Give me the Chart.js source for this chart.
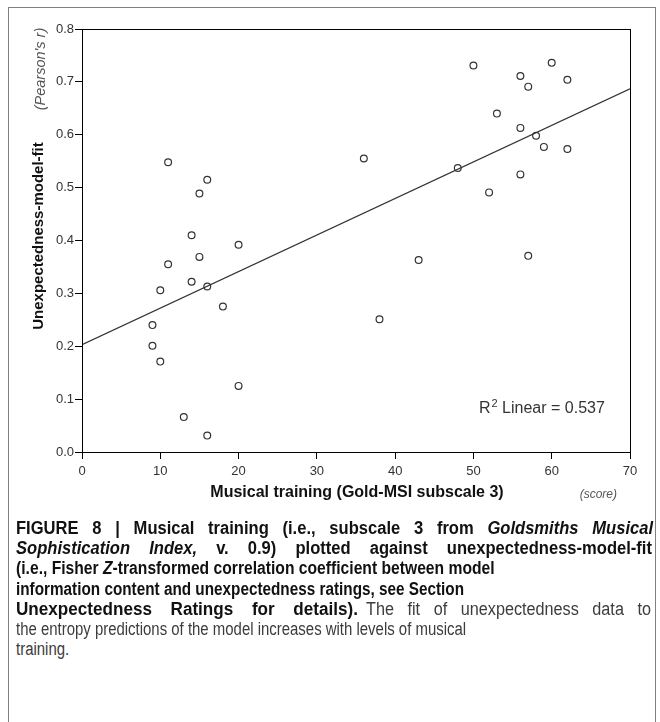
<!DOCTYPE html>
<html lang="en">
<head>
<meta charset="UTF-8">
<title>Figure 8</title>
<script src="https://cdn.jsdelivr.net/npm/chart.js"></script>
<style>
  body { margin: 0; background: #fff; }
  .frame {
    position: absolute; left: 8px; top: 7px; width: 646px; height: 740px;
    border: 1px solid #808080; border-bottom: none;
  }
  #chartBox { position: absolute; left: 0; top: 0; width: 660px; height: 520px; }
  .cap-line {
    position: absolute; left: 16px; height: 20px; line-height: 20px;
    font-family: "Liberation Sans", Arial, sans-serif;
    font-size: 18px; color: #3c3c3c;
    white-space: nowrap; transform-origin: 0 50%;
  }
  .cap-line.just { text-align: justify; text-align-last: justify; }
  .cap-line b { color: #111; }
</style>
</head>
<body>
<div class="frame"></div>
<div id="chartBox"><canvas id="chart" width="660" height="520"></canvas></div>
<div id="caption">
  <div class="cap-line just" data-row="0" data-k="0.92" data-w="637"><b>FIGURE 8 | Musical training (i.e., subscale 3 from <i>Goldsmiths Musical</i></b></div>
  <div class="cap-line just" data-row="1" data-k="0.92" data-w="636"><b><i>Sophistication Index,</i> v. 0.9) plotted against unexpectedness-model-fit</b></div>
  <div class="cap-line" data-row="2" data-k="0.87"><b>(i.e., Fisher <i>Z</i>-transformed correlation coefficient between model</b></div>
  <div class="cap-line" data-row="3" data-k="0.85"><b>information content and unexpectedness ratings, see Section</b></div>
  <div class="cap-line just" data-row="4" data-k="0.95" data-w="342"><b>Unexpectedness Ratings for details).</b></div>
  <div class="cap-line just" data-row="4" data-k="0.9" data-w="285" style="left:366px">The fit of unexpectedness data to</div>
  <div class="cap-line" data-row="5" data-k="0.83">the entropy predictions of the model increases with levels of musical</div>
  <div class="cap-line" data-row="6" data-k="0.83">training.</div>
</div>

<script>
// data
var trainingScore = [11, 16, 15, 14, 20, 15, 11, 14, 10, 16, 18, 9, 9, 10, 20, 13, 16,
  50, 60, 56, 57, 62, 53, 56, 58, 59, 62, 36, 48, 56, 52, 43, 57, 38];
var modelFit = [0.548, 0.515, 0.489, 0.410, 0.392, 0.369, 0.355, 0.322, 0.306, 0.313, 0.275,
  0.240, 0.201, 0.171, 0.125, 0.066, 0.031,
  0.731, 0.736, 0.711, 0.691, 0.704, 0.640, 0.613, 0.598, 0.577, 0.573,
  0.555, 0.537, 0.525, 0.491, 0.363, 0.371, 0.251];
// linear fit line end points
var fitX = [0, 70];
var fitY = [0.203, 0.687];
var rSquared = '0.537';

var FONT = '"Liberation Sans", Arial, sans-serif';

// caption: printed font is condensed, so squeeze the lines a bit
var capLines = document.querySelectorAll('.cap-line');
for (var i = 0; i < capLines.length; i++) {
  var el = capLines[i];
  var k = +el.dataset.k;
  el.style.top = (518 + (+el.dataset.row) * 20.2) + 'px';
  el.style.transform = 'scaleX(' + k + ')';
  if (el.dataset.w) el.style.width = (+el.dataset.w / k) + 'px';
}

var points = trainingScore.map(function(x, i) { return { x: x, y: modelFit[i] }; });
var fitLine = fitX.map(function(x, i) { return { x: x, y: fitY[i] }; });

function rotatedText(ctx, txt, x, y, font, color) {
  ctx.save();
  ctx.translate(x, y);
  ctx.rotate(-Math.PI / 2);
  ctx.textAlign = 'center';
  ctx.textBaseline = 'middle';
  ctx.fillStyle = color;
  ctx.font = font;
  ctx.fillText(txt, 0, 0);
  ctx.restore();
}

// box around plot + extra labels
var extras = {
  id: 'extras',
  afterDraw: function(chart) {
    var ctx = chart.ctx;
    var a = chart.chartArea;
    ctx.save();
    ctx.strokeStyle = '#000';
    ctx.lineWidth = 1;
    ctx.strokeRect(Math.round(a.left) + 0.5, Math.round(a.top) + 0.5,
      Math.round(a.right - a.left), Math.round(a.bottom - a.top));

    // y title
    rotatedText(ctx, 'Unexpectedness-model-fit', 39, 236, 'bold 15px ' + FONT, '#111');
    rotatedText(ctx, "(Pearson's r)", 41, 69, 'italic 14.5px ' + FONT, '#555');

    // x title
    ctx.textBaseline = 'middle';
    ctx.textAlign = 'center';
    ctx.fillStyle = '#111';
    ctx.font = 'bold 16px ' + FONT;
    ctx.fillText('Musical training (Gold-MSI subscale 3)', 357, 493);
    ctx.textAlign = 'right';
    ctx.fillStyle = '#555';
    ctx.font = 'italic 12px ' + FONT;
    ctx.fillText('(score)', 617, 495);

    // R squared note
    ctx.textAlign = 'left';
    ctx.textBaseline = 'alphabetic';
    ctx.fillStyle = '#333';
    ctx.font = '16px ' + FONT;
    var x0 = 479, base = 413;
    ctx.fillText('R', x0, base);
    var w = ctx.measureText('R').width;
    ctx.font = '11px ' + FONT;
    ctx.fillText('2', x0 + w + 1, base - 6);
    var w2 = ctx.measureText('2').width;
    ctx.font = '16px ' + FONT;
    ctx.fillText(' Linear = ' + rSquared, x0 + w + w2 + 1, base);
    ctx.restore();
  }
};

new Chart(document.getElementById('chart'), {
  type: 'scatter',
  data: {
    datasets: [{
      data: points,
      pointRadius: 3.4,
      pointBorderWidth: 1.2,
      pointBorderColor: '#333',
      pointBackgroundColor: 'rgba(255,255,255,0)',
      showLine: false
    }, {
      data: fitLine,
      showLine: true,
      pointRadius: 0,
      borderColor: '#333',
      borderWidth: 1.2
    }]
  },
  options: {
    responsive: false,
    animation: false,
    layout: { padding: { left: 10, top: 29, right: 30, bottom: 0 } },
    plugins: { legend: { display: false }, tooltip: { enabled: false } },
    scales: {
      x: {
        type: 'linear', min: 0, max: 70,
        ticks: { stepSize: 10, color: '#333', padding: 5, font: { family: FONT, size: 13 } },
        grid: { drawOnChartArea: false, tickLength: 7, tickColor: '#000' },
        border: { color: '#000', width: 1 },
        afterFit: function(s) { s.height = 68; }
      },
      y: {
        min: 0, max: 0.8,
        ticks: {
          stepSize: 0.1, color: '#333', padding: 1, font: { family: FONT, size: 13 },
          callback: function(v) { return v.toFixed(1); }
        },
        grid: { drawOnChartArea: false, tickLength: 7, tickColor: '#000' },
        border: { color: '#000', width: 1 },
        afterFit: function(s) { s.width = 72; }
      }
    }
  },
  plugins: [extras]
});
</script>
</body>
</html>
